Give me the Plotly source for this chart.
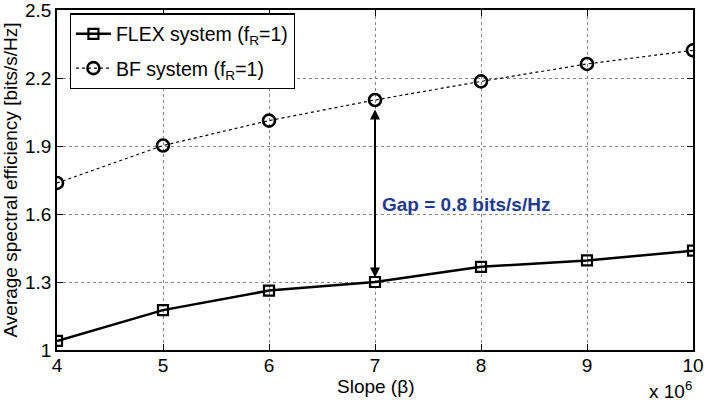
import plotly.graph_objects as go

slope = [4, 5, 6, 7, 8, 9, 10]
flex = [1.04, 1.176, 1.262, 1.30, 1.367, 1.395, 1.438]
bf = [1.737, 1.902, 2.012, 2.103, 2.185, 2.262, 2.322]
yticks = [1, 1.3, 1.6, 1.9, 2.2, 2.5]
xticks = [4, 5, 6, 7, 8, 9, 10]
gap_label = "Gap = 0.8 bits/s/Hz"

FONT = "Liberation Sans, Arial, Helvetica, sans-serif"
FS = 19

fig = go.Figure()
fig.add_trace(go.Scatter(
    x=slope, y=flex, mode="lines+markers", name="FLEX system (f<sub>R</sub>=1)",
    legendgroup="a",
    line=dict(color="black", width=2.5),
    marker=dict(symbol="square-open", size=10, color="black", line=dict(width=2.2, color="black")),
))
fig.add_trace(go.Scatter(
    x=slope, y=bf, mode="lines+markers", name="BF system (f<sub>R</sub>=1)",
    legendgroup="b",
    line=dict(color="black", width=1.2, dash="dot"),
    marker=dict(symbol="circle-open", size=12, color="black", line=dict(width=2.6, color="black")),
))

# gap arrow
fig.add_annotation(
    x=slope[3], y=flex[3] + 0.02, ax=slope[3], ay=bf[3] - 0.035,
    xref="x", yref="y", axref="x", ayref="y",
    showarrow=True, arrowhead=2, startarrowhead=2, arrowside="end+start",
    arrowsize=1, startarrowsize=1, arrowwidth=2, arrowcolor="black", text="",
)
fig.add_annotation(
    x=7.047, y=1.64, xref="x", yref="y", xanchor="left", yanchor="middle",
    text="<b>" + gap_label + "</b>", showarrow=False,
    font=dict(family=FONT, size=FS, color="#1f3a93"),
)
fig.add_annotation(
    x=0.5, y=-0.106, xref="paper", yref="paper", xanchor="center", yanchor="middle",
    text="Slope (β)", showarrow=False,
    font=dict(family=FONT, size=FS, color="black"),
)
fig.add_annotation(
    x=1.0, y=-0.08, xref="paper", yref="paper", xanchor="right", yanchor="top",
    text="x 10<sup>6</sup>", showarrow=False, borderpad=0,
    font=dict(family=FONT, size=FS, color="black"),
)

axis_common = dict(
    showline=True, linecolor="black", linewidth=1.5, mirror="ticks",
    ticks="inside", ticklen=6, tickcolor="black", tickwidth=1,
    showgrid=True, gridcolor="#888888", griddash="dot", gridwidth=1,
    zeroline=False, automargin=False, ticklabeloverflow="allow",
    tickfont=dict(family=FONT, size=FS, color="black"),
)

fig.update_layout(
    width=707, height=404,
    margin=dict(l=57, r=14, t=10, b=54),
    plot_bgcolor="white", paper_bgcolor="white",
    font=dict(family=FONT, size=FS, color="black"),
    xaxis=dict(range=[4, 10], tickvals=xticks, ticklabelstandoff=-3, **axis_common),
    yaxis=dict(range=[1, 2.5], tickvals=yticks, ticktext=[str(v) for v in yticks],
               title=dict(text="Average spectral efficiency [bits/s/Hz]", standoff=4,
                          font=dict(family=FONT, size=FS)), **axis_common),
    legend=dict(x=0.02, y=0.99, xanchor="left", yanchor="top",
                bgcolor="white", bordercolor="black", borderwidth=1.2,
                font=dict(family=FONT, size=19.5), tracegroupgap=6,
                itemwidth=35),
    showlegend=True,
)

fig.write_html("out.html", config={"displayModeBar": False},
               post_script="document.body.style.margin='0';document.body.style.overflow='hidden';")
